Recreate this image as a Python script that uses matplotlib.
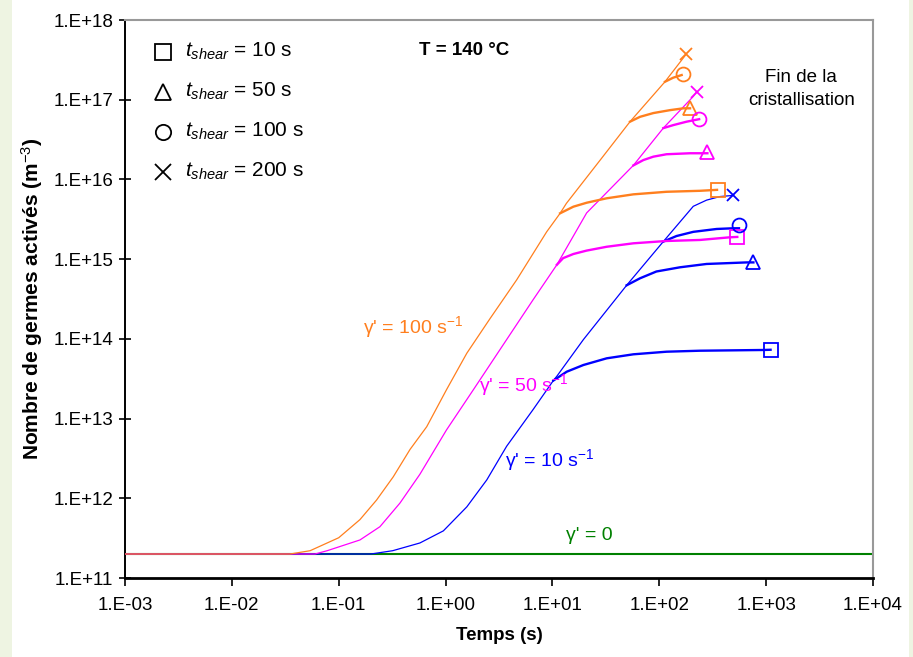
#!/usr/bin/env python3
"""
Nombre de germes activés vs temps, T = 140 °C
"""

import matplotlib.pyplot as plt
import matplotlib.patches as mpatches

plt.rcParams['font.family'] = ['Liberation Sans Narrow', 'Liberation Sans', 'DejaVu Sans']
plt.rcParams['mathtext.fontset'] = 'custom'
plt.rcParams['mathtext.rm'] = 'Liberation Sans'
plt.rcParams['mathtext.it'] = 'Liberation Sans:italic'

# ============================================================================
# DATA (log-log axes)
# ============================================================================

T_MIN, T_MAX = 1e-3, 1e4

ORANGE = '#ff7f1e'
MAGENTA = '#ff00ff'
BLUE = '#0000ff'
GREEN = '#008000'

# gamma' = 100 s-1 : main curve (tshear = 200 s)
t_100 = [1e-3, 0.035, 0.054, 0.10, 0.158, 0.226, 0.324, 0.465, 0.666, 1.02, 1.58,
         2.61, 4.63, 8.83, 11.8, 13.5, 27.9, 53.2, 113, 178]
n_100 = [2e11, 2e11, 2.2e11, 3.2e11, 5.4e11, 9.5e11, 1.86e12, 4.1e12, 7.9e12, 2.3e13,
         6.6e13, 1.8e14, 5.5e14, 2.2e15, 3.76e15, 5.0e15, 1.74e16, 5.3e16, 1.68e17, 3.7e17]
# branches : tshear = 10, 50, 100 s
t_100_10 = [11.8, 15.7, 20.9, 32.2, 57.2, 117, 240, 347]
n_100_10 = [3.76e15, 4.55e15, 5.1e15, 5.8e15, 6.5e15, 7.0e15, 7.2e15, 7.4e15]
t_100_50 = [53.2, 66, 88, 126, 168, 194]
n_100_50 = [5.3e16, 6.1e16, 6.8e16, 7.4e16, 7.8e16, 7.8e16]
t_100_100 = [113, 135, 162]
n_100_100 = [1.68e17, 1.89e17, 2.04e17]

# gamma' = 50 s-1 : main curve (tshear = 200 s)
t_50 = [1e-3, 0.06, 0.078, 0.158, 0.243, 0.374, 0.575, 1.02, 1.82, 3.73, 6.6,
        11.0, 20.9, 57.2, 109, 208, 224]
n_50 = [2e11, 2e11, 2.2e11, 3.0e11, 4.4e11, 8.7e11, 2.0e12, 7.2e12, 2.3e13, 9.8e13,
        3.1e14, 8.5e14, 3.8e15, 1.5e16, 4.4e16, 1.1e17, 1.26e17]
t_50_10 = [11.0, 12.6, 15.7, 20.9, 32.2, 57.2, 117, 240, 458, 537]
n_50_10 = [8.5e14, 1.03e15, 1.16e15, 1.28e15, 1.43e15, 1.58e15, 1.69e15, 1.74e15,
           1.88e15, 1.9e15]
t_50_50 = [57.2, 71, 88, 117, 194, 282]
n_50_50 = [1.5e16, 1.75e16, 1.93e16, 2.07e16, 2.13e16, 2.13e16]
t_50_100 = [109, 135, 180, 236]
n_50_100 = [4.4e16, 4.8e16, 5.3e16, 5.7e16]

# gamma' = 10 s-1 : main curve (tshear = 200 s)
t_10 = [1e-3, 0.2, 0.32, 0.575, 0.953, 1.58, 2.43, 3.73, 6.6, 10.2, 11.0, 19.5,
        49.5, 109, 208, 277, 370, 490]
n_10 = [2e11, 2e11, 2.2e11, 2.75e11, 3.9e11, 7.8e11, 1.7e12, 4.5e12, 1.3e13, 3.0e13,
        3.4e13, 9.8e13, 4.7e14, 1.66e15, 4.6e15, 5.5e15, 6.1e15, 6.3e15]
t_10_10 = [10.2, 13.6, 19.5, 32.2, 57.2, 117, 240, 940, 1100]
n_10_10 = [3.0e13, 3.87e13, 4.7e13, 5.7e13, 6.4e13, 6.9e13, 7.1e13, 7.25e13, 7.3e13]
t_10_50 = [49.5, 66, 94, 156, 277, 658, 760]
n_10_50 = [4.7e14, 5.75e14, 7.0e14, 7.9e14, 8.7e14, 9.1e14, 9.1e14]
t_10_100 = [109, 145, 208, 344, 492, 557]
n_10_100 = [1.66e15, 1.95e15, 2.2e15, 2.39e15, 2.44e15, 2.44e15]

# gamma' = 0
t_0 = [1e-3, 1e4]
n_0 = [2e11, 2e11]

# markers at the end of each branch (tshear = 10, 50, 100, 200 s)
end_markers = {
    ORANGE: [(351, 7.4e15, 's'), (194, 7.9e16, '^'), (168, 2.1e17, 'o'), (178, 3.7e17, 'x')],
    MAGENTA: [(537, 1.9e15, 's'), (282, 2.2e16, '^'), (237, 5.7e16, 'o'), (224, 1.26e17, 'x')],
    BLUE: [(1100, 7.3e13, 's'), (760, 9.3e14, '^'), (562, 2.65e15, 'o'), (490, 6.3e15, 'x')],
}

x_ticks = [1e-3, 1e-2, 1e-1, 1e0, 1e1, 1e2, 1e3, 1e4]
x_labels = ['1.E-03', '1.E-02', '1.E-01', '1.E+00', '1.E+01', '1.E+02', '1.E+03', '1.E+04']
y_ticks = [1e11, 1e12, 1e13, 1e14, 1e15, 1e16, 1e17, 1e18]
y_labels = ['1.E+11', '1.E+12', '1.E+13', '1.E+14', '1.E+15', '1.E+16', '1.E+17', '1.E+18']

legend_labels = [r'$t_{shear}$ = 10 s', r'$t_{shear}$ = 50 s',
                 r'$t_{shear}$ = 100 s', r'$t_{shear}$ = 200 s']
legend_markers = ['s', '^', 'o', 'x']

# ============================================================================
# PLOT
# ============================================================================
fig = plt.figure(figsize=(9.13, 6.57), dpi=100)
fig.patch.set_facecolor('white')
# pale side strips of the original slide
fig.patches.append(mpatches.Rectangle((0, 0), 12 / 913, 1, transform=fig.transFigure,
                                      facecolor='#eef4e2', edgecolor='none', zorder=0))
fig.patches.append(mpatches.Rectangle((909 / 913, 0), 4 / 913, 1, transform=fig.transFigure,
                                      facecolor='#eef4e2', edgecolor='none', zorder=0))

ax = fig.add_axes([125 / 913, 1 - 578 / 657, 748 / 913, 558 / 657])
ax.set_xscale('log')
ax.set_yscale('log')
ax.set_xlim(T_MIN, T_MAX)
ax.set_ylim(1e11, 1e18)

ax.plot(t_0, n_0, color=GREEN, lw=1.5, zorder=2)

thin, thick = 0.9, 1.7
ax.plot(t_10, n_10, color=BLUE, lw=thin, zorder=3)
for tt, nn in [(t_10_10, n_10_10), (t_10_50, n_10_50), (t_10_100, n_10_100)]:
    ax.plot(tt, nn, color=BLUE, lw=thick, zorder=3)
ax.plot(t_50, n_50, color=MAGENTA, lw=thin, zorder=4)
for tt, nn in [(t_50_10, n_50_10), (t_50_50, n_50_50), (t_50_100, n_50_100)]:
    ax.plot(tt, nn, color=MAGENTA, lw=thick, zorder=4)
ax.plot(t_100, n_100, color=ORANGE, lw=thin, zorder=5)
for tt, nn in [(t_100_10, n_100_10), (t_100_50, n_100_50), (t_100_100, n_100_100)]:
    ax.plot(tt, nn, color=ORANGE, lw=thick, zorder=5)

for col, marks in end_markers.items():
    for tx, ny, m in marks:
        ax.plot([tx], [ny], marker=m, ms=10 if m != 'x' else 9, mfc='none', mec=col,
                mew=1.3, ls='none', zorder=6)

# legend (drawn by hand, black open markers)
for i, (lab, m) in enumerate(zip(legend_labels, legend_markers)):
    yy = 0.943 - i * 0.0717
    ax.plot([0.051], [yy], marker=m, ms=11 if m != 'x' else 11, mfc='none', mec='black',
            mew=1.3, ls='none', transform=ax.transAxes, clip_on=False)
    ax.text(0.080, yy, lab, transform=ax.transAxes, fontsize=15, va='center', ha='left')

ax.text(0.393, 0.945, 'T = 140 °C', transform=ax.transAxes, fontsize=13.5,
        fontweight='bold', va='center', ha='left')
ax.text(0.904, 0.876, 'Fin de la\ncristallisation', transform=ax.transAxes, fontsize=13.5,
        va='center', ha='center', linespacing=1.45)

ax.text(0.17, 1.4e14, "γ' = 100 s$^{-1}$", color=ORANGE, fontsize=14, ha='left', va='center')
ax.text(2.05, 2.6e13, "γ' = 50 s$^{-1}$", color=MAGENTA, fontsize=14, ha='left', va='center')
ax.text(3.6, 3.0e12, "γ' = 10 s$^{-1}$", color=BLUE, fontsize=14, ha='left', va='center')
ax.text(13.5, 3.45e11, "γ' = 0", color=GREEN, fontsize=14, ha='left', va='center')

ax.set_xticks(x_ticks)
ax.set_xticklabels(x_labels)
ax.set_yticks(y_ticks)
ax.set_yticklabels(y_labels)
ax.minorticks_off()
ax.tick_params(axis='x', direction='out', length=6, width=1.2, labelsize=13.5, pad=8)
ax.tick_params(axis='y', direction='inout', length=9, width=1.2, labelsize=13.5, pad=4)

ax.spines['left'].set_linewidth(1.4)
ax.spines['bottom'].set_linewidth(2)
ax.spines['top'].set_color('#999999')
ax.spines['right'].set_color('#999999')
ax.spines['top'].set_linewidth(1.5)
ax.spines['right'].set_linewidth(1.5)

ax.set_xlabel('Temps (s)', fontsize=13.5, fontweight='bold', family='Liberation Sans', labelpad=9)
ax.set_ylabel('Nombre de germes activés (m$^{-3}$)', fontsize=15, fontweight='bold',
              family='Liberation Sans', labelpad=6)

plt.savefig('out.png', dpi=100)
plt.close()
